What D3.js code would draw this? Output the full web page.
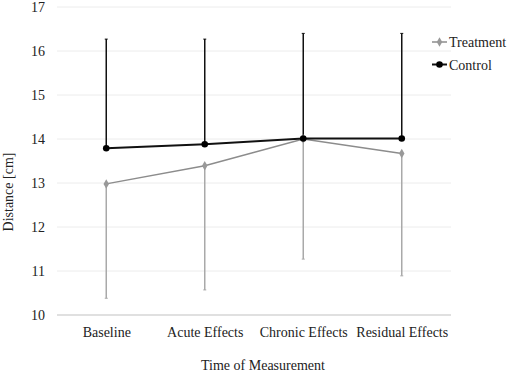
<!DOCTYPE html>
<html>
<head>
<meta charset="utf-8">
<script src="https://cdn.jsdelivr.net/npm/d3@7"></script>
<style>
  body { margin: 0; background: #fff; }
  svg text { font-family: "Liberation Serif", "Times New Roman", Times, "Nimbus Roman", "DejaVu Serif", serif !important; }
</style>
</head>
<body>
<svg width="510" height="372"></svg>
<script>
// categories on the x axis
const phases = ['Baseline', 'Acute Effects', 'Chronic Effects', 'Residual Effects']
// group means
const treatment = [12.98, 13.39, 14.0, 13.67]
const control = [13.79, 13.88, 14.01, 14.01]
// ends of the error bars (treatment drawn downwards, control upwards)
const treatmentLow = [10.38, 10.57, 11.27, 10.89]
const controlHigh = [16.27, 16.27, 16.40, 16.40]
const yTicks = [10, 11, 12, 13, 14, 15, 16, 17]

const svg = d3.select('svg')

const x = d3.scalePoint()
  .domain(phases)
  .range([57, 451])
  .padding(0.5)

const y = d3.scaleLinear()
  .domain([10, 17])
  .range([315, 7])

// gridlines
svg.append('g')
  .selectAll('line')
  .data(yTicks.filter(d => d !== 10))
  .join('line')
  .attr('x1', 57).attr('x2', 451)
  .attr('y1', d => y(d)).attr('y2', d => y(d))
  .attr('stroke', '#ececec')
  .attr('stroke-width', 1)

// y axis labels only, no line
const yAxis = d3.axisLeft(y).tickValues(yTicks).tickFormat(d3.format('d')).tickSize(0).tickPadding(0)
svg.append('g')
  .attr('transform', 'translate(45,0)')
  .call(yAxis)
  .call(g => g.select('.domain').remove())
  .selectAll('text')
  .attr('font-size', 14)
  .attr('fill', '#222')

// x axis line and labels
svg.append('line')
  .attr('x1', 57).attr('x2', 451)
  .attr('y1', y(10)).attr('y2', y(10))
  .attr('stroke', '#d6d6d6')
  .attr('stroke-width', 1.5)

const xAxis = d3.axisBottom(x).tickSize(0).tickPadding(12)
svg.append('g')
  .attr('transform', `translate(0,${y(10)})`)
  .call(xAxis)
  .call(g => g.select('.domain').remove())
  .selectAll('text')
  .attr('font-size', 14)
  .attr('fill', '#222')

// axis titles
svg.append('text')
  .attr('x', 263).attr('y', 370)
  .attr('text-anchor', 'middle')
  .attr('font-size', 14)
  .attr('fill', '#222')
  .text('Time of Measurement')

svg.append('text')
  .attr('transform', 'translate(13,192) rotate(-90)')
  .attr('text-anchor', 'middle')
  .attr('font-size', 14)
  .attr('fill', '#222')
  .text('Distance [cm]')

// error bars
const drawErrors = (means, ends, color) => {
  const g = svg.append('g')
  g.selectAll('line.bar')
    .data(phases)
    .join('line')
    .attr('class', 'bar')
    .attr('x1', d => x(d)).attr('x2', d => x(d))
    .attr('y1', (d, i) => y(means[i])).attr('y2', (d, i) => y(ends[i]))
    .attr('stroke', color)
    .attr('stroke-width', 1.5)
  g.selectAll('line.cap')
    .data(phases)
    .join('line')
    .attr('class', 'cap')
    .attr('x1', d => x(d) - 1.5).attr('x2', d => x(d) + 1.5)
    .attr('y1', (d, i) => y(ends[i])).attr('y2', (d, i) => y(ends[i]))
    .attr('stroke', color)
    .attr('stroke-width', 1)
}
drawErrors(treatment, treatmentLow, '#a9a9a9')
drawErrors(control, controlHigh, '#111')

const line = d3.line()
  .x((d, i) => x(phases[i]))
  .y(d => y(d))

// treatment series
svg.append('path')
  .attr('d', line(treatment))
  .attr('fill', 'none')
  .attr('stroke', '#8c8c8c')
  .attr('stroke-width', 1.5)

// control series
svg.append('path')
  .attr('d', line(control))
  .attr('fill', 'none')
  .attr('stroke', '#111')
  .attr('stroke-width', 2)

const diamond = d3.symbol().type(d3.symbolDiamond).size(26)

svg.append('g')
  .selectAll('path')
  .data(treatment)
  .join('path')
  .attr('d', diamond)
  .attr('transform', (d, i) => `translate(${x(phases[i])},${y(d)})`)
  .attr('fill', '#999')

svg.append('g')
  .selectAll('circle')
  .data(control)
  .join('circle')
  .attr('cx', (d, i) => x(phases[i]))
  .attr('cy', d => y(d))
  .attr('r', 3.3)
  .attr('fill', '#000')

// legend
const legend = svg.append('g')
legend.append('line')
  .attr('x1', 432).attr('x2', 447).attr('y1', 42).attr('y2', 42)
  .attr('stroke', '#8c8c8c').attr('stroke-width', 1.5)
legend.append('path')
  .attr('d', diamond)
  .attr('transform', 'translate(439.5,42)')
  .attr('fill', '#999')
legend.append('text')
  .attr('x', 449).attr('y', 47)
  .attr('font-size', 14).attr('fill', '#222')
  .text('Treatment')

legend.append('line')
  .attr('x1', 432).attr('x2', 447).attr('y1', 64.5).attr('y2', 64.5)
  .attr('stroke', '#111').attr('stroke-width', 2)
legend.append('circle')
  .attr('cx', 439.5).attr('cy', 64.5).attr('r', 3.3)
  .attr('fill', '#000')
legend.append('text')
  .attr('x', 449).attr('y', 69.5)
  .attr('font-size', 14).attr('fill', '#222')
  .text('Control')
</script>
</body>
</html>
